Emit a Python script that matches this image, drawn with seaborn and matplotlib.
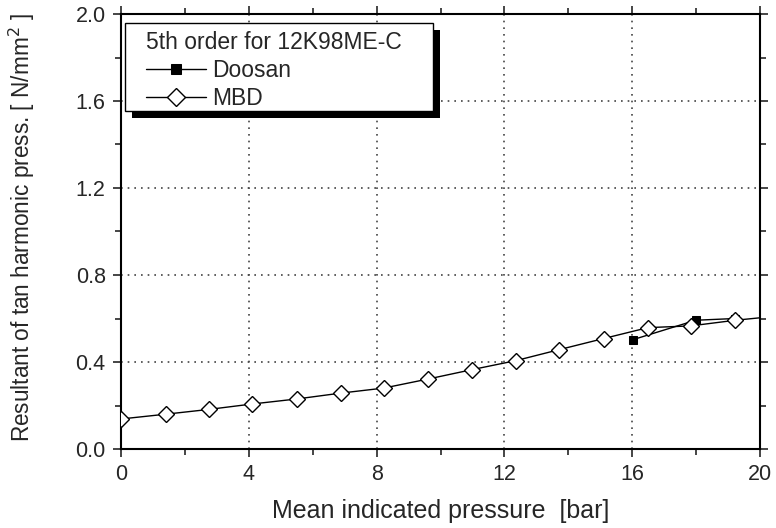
import numpy as np
import pandas as pd
import matplotlib
matplotlib.use("Agg")
import matplotlib.pyplot as plt
import seaborn as sb
from matplotlib.patches import Rectangle
from matplotlib.ticker import MultipleLocator

# MBD calculated values
mbd_x = [0.0, 1.40, 2.75, 4.11, 5.50, 6.88, 8.22, 9.62, 10.99, 12.35, 13.72, 15.11, 16.49, 17.83, 19.23, 20.6]
mbd_y = [0.138, 0.160, 0.182, 0.207, 0.230, 0.257, 0.280, 0.322, 0.365, 0.406, 0.457, 0.508, 0.558, 0.566, 0.592, 0.612]
# Doosan measured values
doosan_x = [16.03, 17.99, 19.23]
doosan_y = [0.503, 0.592, 0.600]

sb.set_style("ticks")
plt.rcParams["font.family"] = ["Liberation Sans", "DejaVu Sans"]
plt.rcParams["font.size"] = 15

W, H = 776, 528
fig = plt.figure(figsize=(W / 100, H / 100), dpi=100)
L, R, T, B = 121, 760, 14, 449
ax = fig.add_axes([L / W, 1 - B / H, (R - L) / W, (B - T) / H])

df_m = pd.DataFrame({"x": mbd_x, "y": mbd_y})
df_d = pd.DataFrame({"x": doosan_x, "y": doosan_y})

sb.lineplot(data=df_d, x="x", y="y", ax=ax, color="black", linewidth=1,
            marker="s", markersize=6.3, markerfacecolor="black", markeredgecolor="black",
            label="Doosan", zorder=3)
sb.lineplot(data=df_m, x="x", y="y", ax=ax, color="black", linewidth=1,
            marker="D", markersize=8, markerfacecolor="white", markeredgecolor="black",
            markeredgewidth=1, label="MBD", zorder=4)

ax.set_xlim(0, 20)
ax.set_ylim(0, 2.0)
ax.xaxis.set_major_locator(MultipleLocator(4))
ax.xaxis.set_minor_locator(MultipleLocator(2))
ax.yaxis.set_major_locator(MultipleLocator(0.4))
ax.yaxis.set_minor_locator(MultipleLocator(0.2))
ax.yaxis.set_major_formatter(matplotlib.ticker.FormatStrFormatter("%.1f"))
ax.tick_params(which="both", direction="out", top=True, right=True, labelsize=15.5, width=1.2)
ax.tick_params(which="major", length=6, pad=5)
ax.tick_params(which="minor", length=4)
ax.grid(True, which="major", color="#444444", linestyle=(0, (1, 3)), linewidth=1.2)
for s in ax.spines.values():
    s.set_linewidth(1.5)
    s.set_color("black")

ax.set_xlabel("Mean indicated pressure  [bar]", fontsize=18, labelpad=10)
ax.set_ylabel("Resultant of tan harmonic press. [ N/mm$^2$ ]", fontsize=16.3)
ax.yaxis.set_label_coords(-0.131, 0.508)

# legend text without its own frame; frame and shadow drawn as in the original
def px(x, y):
    return ((x - L) / (R - L), (B - y) / (B - T))

leg = ax.legend(title="5th order for 12K98ME-C", loc="upper left", bbox_to_anchor=px(146, 31),
                frameon=False, handlelength=2.6, borderpad=0, labelspacing=0.22,
                handletextpad=0.3, borderaxespad=0, fontsize=16.5, title_fontsize=16.5,
                alignment="left", markerscale=1.15)
leg.set_zorder(11)

x0, y0 = px(125, 111)
x1, y1 = px(433, 23)
sx, sy = px(125 + 7, 111 + 7)
ax.add_patch(Rectangle((sx, sy), x1 - x0, y1 - y0, transform=ax.transAxes,
                       facecolor="black", edgecolor="none", zorder=9, clip_on=False))
ax.add_patch(Rectangle((x0, y0), x1 - x0, y1 - y0, transform=ax.transAxes,
                       facecolor="white", edgecolor="black", linewidth=1.0, zorder=10,
                       clip_on=False))

fig.savefig("out.png", dpi=100)
